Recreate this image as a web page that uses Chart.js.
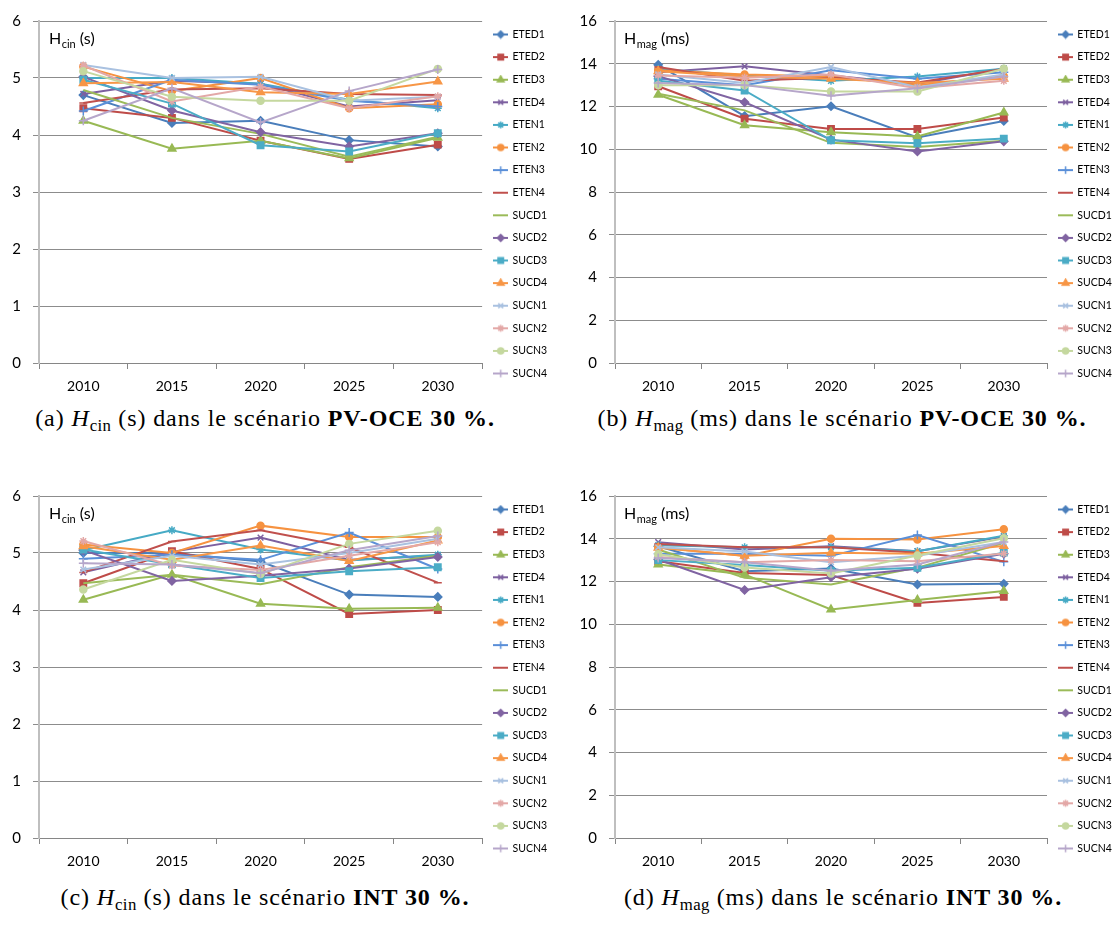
<!DOCTYPE html>
<html>
<head>
<meta charset="utf-8">
<script src="https://cdn.jsdelivr.net/npm/chart.js"></script>
<style>
  body { margin: 0; background: #fff; width: 1114px; height: 925px; position: relative; overflow: hidden; }
  canvas { position: absolute; }
  .cap { position: absolute; font-family: "Liberation Serif", serif; font-size: 24px; line-height: 26px;
         letter-spacing: 0.9px; color: #000; white-space: nowrap; transform: translateX(-50%); }
  .cap sub { font-size: 70%; line-height: 0; vertical-align: -0.3em; letter-spacing: 0.4px; }
</style>
</head>
<body>
<canvas id="chartA" width="557" height="400" style="left:0;top:0"></canvas>
<canvas id="chartB" width="557" height="400" style="left:557px;top:0"></canvas>
<canvas id="chartC" width="557" height="400" style="left:0;top:475px"></canvas>
<canvas id="chartD" width="557" height="400" style="left:557px;top:475px"></canvas>

<div class="cap" style="left:265px;top:405px">(a) <i>H</i><sub>cin</sub> (s) dans le scénario <b>PV-OCE 30 %.</b></div>
<div class="cap" style="left:842px;top:405px">(b) <i>H</i><sub>mag</sub> (ms) dans le scénario <b>PV-OCE 30 %.</b></div>
<div class="cap" style="left:265px;top:884px">(c) <i>H</i><sub>cin</sub> (s) dans le scénario <b>INT 30 %.</b></div>
<div class="cap" style="left:843px;top:884px">(d) <i>H</i><sub>mag</sub> (ms) dans le scénario <b>INT 30 %.</b></div>

<script>
const years = ["2010", "2015", "2020", "2025", "2030"];
const seriesNames = ["ETED1", "ETED2", "ETED3", "ETED4", "ETEN1", "ETEN2", "ETEN3", "ETEN4",
                     "SUCD1", "SUCD2", "SUCD3", "SUCD4", "SUCN1", "SUCN2", "SUCN3", "SUCN4"];

// (a) H_cin (s), PV-OCE 30 %
const hcinPvOce = [
  [4.70, 4.21, 4.25, 3.91, 3.80],
  [4.47, 4.30, 3.90, 3.58, 3.83],
  [4.25, 3.76, 3.90, 3.59, 3.95],
  [4.72, 4.95, 4.90, 4.50, 4.61],
  [5.00, 5.00, 4.90, 4.62, 4.47],
  [5.20, 4.77, 5.00, 4.47, 4.54],
  [4.42, 4.97, 4.88, 4.60, 4.50],
  [4.56, 4.80, 4.82, 4.72, 4.70],
  [4.79, 4.30, 4.02, 3.62, 3.97],
  [5.02, 4.43, 4.05, 3.80, 4.03],
  [4.97, 4.55, 3.82, 3.71, 4.03],
  [4.91, 4.93, 4.75, 4.72, 4.94],
  [5.23, 5.00, 5.02, 4.60, 4.67],
  [5.22, 4.59, 4.85, 4.47, 4.68],
  [5.12, 4.67, 4.60, 4.60, 5.16],
  [4.25, 4.82, 4.22, 4.77, 5.15]
];

// (b) H_mag (ms), PV-OCE 30 %
const hmagPvOce = [
  [13.95, 11.55, 12.01, 10.55, 11.32],
  [12.95, 11.43, 10.95, 10.95, 11.48],
  [12.55, 11.12, 10.80, 10.60, 11.72],
  [13.60, 13.88, 13.45, 13.05, 13.78],
  [13.75, 13.45, 13.20, 13.40, 13.77],
  [13.70, 13.50, 13.40, 13.00, 13.42],
  [13.30, 13.00, 13.70, 13.30, 13.60],
  [13.85, 13.20, 13.35, 13.12, 13.75],
  [12.60, 11.82, 10.30, 10.10, 10.40],
  [13.42, 12.20, 10.45, 9.90, 10.37],
  [13.20, 12.75, 10.42, 10.28, 10.50],
  [13.65, 13.40, 13.30, 13.10, 13.30],
  [13.50, 13.10, 13.85, 12.90, 13.50],
  [13.45, 13.35, 13.50, 12.85, 13.20],
  [13.00, 13.00, 12.70, 12.70, 13.77],
  [13.10, 13.00, 12.50, 12.85, 13.40]
];

// (c) H_cin (s), INT 30 %
const hcinInt = [
  [5.00, 5.00, 4.85, 4.27, 4.23],
  [4.47, 5.03, 4.72, 3.93, 4.00],
  [4.18, 4.62, 4.11, 4.02, 4.04],
  [4.66, 5.02, 5.27, 4.88, 4.95],
  [5.05, 5.40, 5.06, 4.87, 4.97],
  [5.15, 5.00, 5.48, 5.28, 5.28],
  [4.90, 4.97, 4.88, 5.36, 4.72],
  [4.66, 5.20, 5.40, 5.10, 4.48],
  [4.47, 4.62, 4.45, 4.75, 4.95],
  [5.05, 4.51, 4.60, 4.73, 4.93],
  [5.06, 4.80, 4.56, 4.68, 4.75],
  [5.12, 4.88, 5.13, 4.86, 5.22],
  [4.71, 4.95, 4.80, 5.00, 5.25],
  [5.21, 4.78, 4.70, 4.95, 5.19],
  [4.36, 4.88, 4.63, 5.16, 5.39],
  [4.82, 4.80, 4.65, 5.05, 5.30]
];

// (d) H_mag (ms), INT 30 %
const hmagInt = [
  [13.65, 12.48, 12.61, 11.86, 11.89],
  [12.95, 12.40, 12.30, 11.00, 11.28],
  [12.80, 12.33, 10.69, 11.14, 11.55],
  [13.84, 13.50, 13.65, 13.42, 14.10],
  [13.70, 13.60, 13.60, 13.42, 14.14],
  [13.60, 13.19, 14.00, 13.97, 14.44],
  [13.30, 13.30, 13.20, 14.17, 12.92],
  [13.75, 13.60, 13.60, 13.35, 12.95],
  [13.50, 12.17, 11.86, 12.65, 13.80],
  [13.03, 11.60, 12.20, 12.60, 13.30],
  [13.00, 12.77, 12.50, 12.64, 13.35],
  [13.58, 13.20, 13.34, 13.30, 13.66],
  [13.60, 13.40, 12.90, 13.20, 13.85],
  [13.15, 12.90, 13.00, 12.95, 13.31],
  [13.27, 12.65, 12.38, 13.22, 14.02],
  [13.10, 12.90, 12.50, 12.80, 13.85]
];

// excel 2007 style series look
const colors = ["#4A7EBB", "#BE4B48", "#98B954", "#7D60A0", "#46AAC5", "#F69240", "#5A8FD8", "#C0504D",
                "#9BBB59", "#8064A2", "#4BACC6", "#F79646", "#A9C1E0", "#E3A8A7", "#C5D89F", "#B6A6CA"];
const markers = ["rectRot", "rect", "triangle", "crossRot", "star", "circle", "cross", "line",
                 false, "rectRot", "rect", "triangle", "crossRot", "star", "circle", "cross"];
const markerSize = [4, 4.5, 4.5, 4, 4, 3.5, 4.5, 4, 0, 4, 4.5, 4.5, 4, 4, 3.5, 4.5];

Chart.defaults.font.family = "Lato";

// small line+marker pictures for the legend
const legendIcons = seriesNames.map((name, i) => {
  const c = document.createElement("canvas");
  c.width = 15;
  c.height = 10;
  const ctx = c.getContext("2d");
  ctx.strokeStyle = colors[i];
  ctx.fillStyle = colors[i];
  ctx.lineWidth = 2;
  ctx.beginPath();
  ctx.moveTo(0, 5);
  ctx.lineTo(15, 5);
  ctx.stroke();
  if (markers[i]) {
    ctx.lineWidth = 1.5;
    Chart.helpers.drawPoint(ctx, { pointStyle: markers[i], radius: markerSize[i] * 0.85, rotation: 0, borderWidth: 1.5 }, 7.5, 5);
  }
  return c;
});

const axisTitle = {
  id: "axisTitle",
  afterLayout(chart) {
    // excel puts the legend block a bit higher than chart.js does
    chart.legend.top -= 6;
    chart.legend.bottom -= 6;
  },
  afterDraw(chart, args, opts) {
    const ctx = chart.ctx;
    const area = chart.chartArea;
    let x = area.left + opts.dx;
    const y = area.top + 23;
    ctx.save();
    ctx.fillStyle = "#000";
    ctx.textBaseline = "alphabetic";
    ctx.font = "16px Lato";
    ctx.fillText("H", x, y);
    x += ctx.measureText("H").width + 0.5;
    ctx.font = "11px Lato";
    ctx.fillText(opts.sub, x, y + 4);
    x += ctx.measureText(opts.sub).width;
    ctx.font = "16px Lato";
    ctx.fillText(" " + opts.unit, x, y);
    ctx.restore();
  }
};

function makeChart(id, values, yMax, yStep, axisWidth, legendWidth, sub, unit, dx) {
  return new Chart(document.getElementById(id), {
    type: "line",
    data: {
      labels: years,
      datasets: seriesNames.map((name, i) => ({
        label: name,
        data: values[i],
        borderColor: colors[i],
        backgroundColor: colors[i],
        borderWidth: 2,
        pointStyle: markers[i],
        pointRadius: markers[i] ? markerSize[i] : 0,
        pointBorderWidth: 1.5,
        pointBackgroundColor: colors[i],
        pointBorderColor: colors[i],
        tension: 0,
        order: seriesNames.length - i
      }))
    },
    options: {
      responsive: false,
      animation: false,
      events: [],
      layout: { padding: { top: 20, left: 0, right: 0, bottom: 0 } },
      plugins: {
        tooltip: { enabled: false },
        axisTitle: { sub: sub, unit: unit, dx: dx },
        legend: {
          position: "right",
          maxWidth: legendWidth,
          labels: {
            usePointStyle: true,
            pointStyleWidth: 13,
            padding: 12.1,
            color: "#000",
            font: { family: "Lato", size: 10.5 },
            sort: (a, b) => a.datasetIndex - b.datasetIndex,
            generateLabels(chart) {
              const items = Chart.defaults.plugins.legend.labels.generateLabels(chart);
              items.forEach(it => { it.pointStyle = legendIcons[it.datasetIndex]; });
              return items;
            }
          }
        }
      },
      scales: {
        x: {
          offset: true,
          grid: { offset: true, drawOnChartArea: false, drawTicks: true, tickLength: 6, color: "#868686" },
          border: { color: "#868686", width: 1 },
          ticks: { color: "#000", font: { size: 14 }, padding: 9, maxRotation: 0 },
          afterFit(scale) { scale.height = 37; }
        },
        y: {
          min: 0,
          max: yMax,
          ticks: { stepSize: yStep, color: "#000", font: { size: 15 }, padding: 12 },
          grid: { color: "#8C8C8C", tickLength: 6 },
          border: { color: "#BFBFBF", width: 2 },
          afterFit(scale) { scale.width = axisWidth; }
        }
      }
    },
    plugins: [axisTitle]
  });
}

makeChart("chartA", hcinPvOce, 6, 1, 39, 78, "cin", "(s)", 10);
makeChart("chartB", hmagPvOce, 16, 2, 58, 67, "mag", "(ms)", 9);
makeChart("chartC", hcinInt, 6, 1, 39, 78, "cin", "(s)", 10);
makeChart("chartD", hmagInt, 16, 2, 58, 67, "mag", "(ms)", 9);
</script>
</body>
</html>
